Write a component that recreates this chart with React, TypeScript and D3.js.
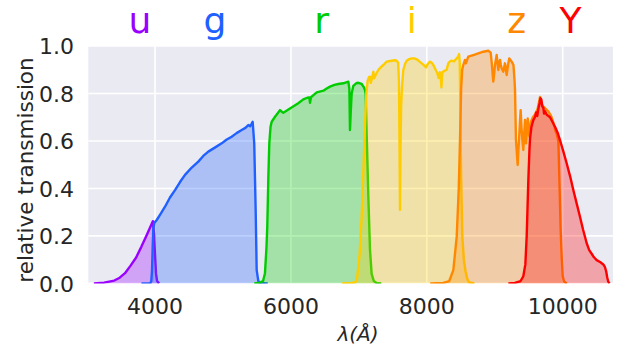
import React from 'react';
import * as d3 from 'd3';

// Filter transmission curves (wavelength in Å, relative transmission)
const uWave = [3100, 3250, 3400, 3480, 3558, 3640, 3720, 3800, 3880, 3950, 3968, 3985, 4000, 4015, 4030, 4060];
const uTrans = [0, 0.003, 0.012, 0.024, 0.043, 0.075, 0.108, 0.155, 0.205, 0.25, 0.262, 0.21, 0.12, 0.04, 0.01, 0];

const gWave = [3800, 3930, 3945, 3955, 3965, 3975, 3990, 4025, 4080, 4147, 4220, 4294, 4370, 4441, 4540, 4637, 4710, 4784, 4880, 4981, 5050, 5128, 5200, 5275, 5330, 5373, 5400, 5420, 5437, 5460, 5481, 5496, 5520, 5560, 5660];
const gTrans = [0, 0, 0.01, 0.05, 0.15, 0.23, 0.255, 0.267, 0.292, 0.323, 0.362, 0.393, 0.428, 0.457, 0.488, 0.513, 0.537, 0.555, 0.572, 0.59, 0.605, 0.618, 0.633, 0.646, 0.655, 0.667, 0.662, 0.672, 0.681, 0.59, 0.31, 0.056, 0.01, 0.002, 0];

const rWave = [5460, 5540, 5590, 5618, 5640, 5652, 5668, 5682, 5700, 5717, 5766, 5800, 5839, 5870, 5888, 5940, 5986, 6050, 6108, 6182, 6240, 6270, 6281, 6295, 6340, 6380, 6478, 6520, 6575, 6640, 6697, 6771, 6845, 6860, 6869, 6880, 6894, 6918, 6960, 6992, 7041, 7070, 7090, 7100, 7115, 7139, 7164, 7188, 7220, 7260, 7330];
const rTrans = [0, 0.003, 0.01, 0.043, 0.15, 0.24, 0.45, 0.59, 0.66, 0.681, 0.702, 0.715, 0.73, 0.722, 0.719, 0.728, 0.737, 0.748, 0.759, 0.775, 0.782, 0.783, 0.761, 0.784, 0.795, 0.805, 0.812, 0.82, 0.829, 0.836, 0.84, 0.843, 0.85, 0.82, 0.646, 0.72, 0.8, 0.832, 0.843, 0.845, 0.84, 0.828, 0.815, 0.8, 0.63, 0.37, 0.14, 0.04, 0.01, 0.002, 0];

const iWave = [6750, 6900, 6950, 6975, 7010, 7041, 7065, 7090, 7110, 7130, 7150, 7164, 7175, 7190, 7213, 7225, 7250, 7286, 7320, 7360, 7409, 7483, 7530, 7556, 7578, 7590, 7598, 7605, 7612, 7622, 7635, 7654, 7680, 7704, 7740, 7777, 7815, 7851, 7890, 7925, 7960, 7988, 8015, 8047, 8070, 8096, 8130, 8155, 8175, 8190, 8205, 8215, 8228, 8260, 8292, 8316, 8340, 8366, 8400, 8430, 8460, 8475, 8485, 8495, 8505, 8522, 8545, 8570, 8595, 8620, 8700];
const iTrans = [0, 0.002, 0.005, 0.025, 0.12, 0.28, 0.47, 0.67, 0.8, 0.855, 0.87, 0.871, 0.845, 0.86, 0.892, 0.864, 0.88, 0.899, 0.91, 0.92, 0.934, 0.938, 0.94, 0.938, 0.93, 0.85, 0.6, 0.31, 0.55, 0.75, 0.83, 0.899, 0.925, 0.938, 0.945, 0.948, 0.948, 0.944, 0.935, 0.927, 0.918, 0.91, 0.925, 0.934, 0.93, 0.92, 0.9, 0.885, 0.865, 0.89, 0.87, 0.825, 0.89, 0.895, 0.9, 0.927, 0.935, 0.938, 0.935, 0.945, 0.955, 0.966, 0.93, 0.7, 0.45, 0.2, 0.1, 0.05, 0.02, 0.005, 0];

const zWave = [8050, 8243, 8330, 8390, 8440, 8470, 8488, 8505, 8520, 8537, 8560, 8575, 8610, 8684, 8757, 8831, 8905, 8940, 8955, 8964, 8978, 8990, 9003, 9028, 9040, 9052, 9065, 9077, 9090, 9101, 9126, 9150, 9165, 9175, 9195, 9214, 9249, 9275, 9290, 9298, 9312, 9325, 9337, 9347, 9357, 9370, 9381, 9395, 9406, 9420, 9435, 9445, 9460, 9472, 9485, 9497, 9509, 9522, 9533, 9560, 9592, 9630, 9666, 9690, 9715, 9750, 9788, 9830, 9862, 9890, 9911, 9936, 9950, 9970, 9985, 10000, 10020, 10060];
const zTrans = [0, 0.002, 0.01, 0.056, 0.197, 0.4, 0.6, 0.82, 0.9, 0.92, 0.941, 0.927, 0.955, 0.962, 0.969, 0.976, 0.98, 0.972, 0.93, 0.899, 0.85, 0.88, 0.92, 0.962, 0.93, 0.899, 0.93, 0.941, 0.92, 0.906, 0.892, 0.927, 0.9, 0.878, 0.92, 0.948, 0.934, 0.92, 0.86, 0.815, 0.604, 0.55, 0.499, 0.56, 0.604, 0.68, 0.73, 0.65, 0.604, 0.562, 0.64, 0.688, 0.59, 0.64, 0.695, 0.65, 0.618, 0.66, 0.681, 0.7, 0.712, 0.735, 0.785, 0.755, 0.745, 0.735, 0.725, 0.705, 0.678, 0.645, 0.63, 0.6, 0.45, 0.225, 0.11, 0.03, 0.008, 0];

const yWave = [9200, 9297, 9380, 9420, 9450, 9470, 9494, 9510, 9519, 9540, 9567, 9590, 9610, 9625, 9641, 9660, 9672, 9685, 9700, 9715, 9725, 9740, 9765, 9790, 9813, 9850, 9887, 9925, 9960, 10010, 10058, 10110, 10156, 10205, 10254, 10300, 10353, 10390, 10426, 10460, 10500, 10550, 10598, 10620, 10640, 10655, 10671, 10690];
const yTrans = [0, 0.002, 0.01, 0.03, 0.08, 0.2, 0.435, 0.56, 0.61, 0.66, 0.688, 0.7, 0.72, 0.705, 0.735, 0.76, 0.78, 0.775, 0.745, 0.74, 0.715, 0.725, 0.71, 0.705, 0.7, 0.68, 0.66, 0.635, 0.604, 0.555, 0.506, 0.45, 0.393, 0.337, 0.281, 0.226, 0.169, 0.14, 0.125, 0.11, 0.098, 0.09, 0.08, 0.07, 0.05, 0.025, 0.007, 0];

const bandNames = ['u', 'g', 'r', 'i', 'z', 'Y'];
const bandColors = ['#9900ff', '#2060ff', '#00cc00', '#ffcc00', '#ff8800', '#ff0000'];
const bandLabelWave = [3779, 4883, 6453, 7778, 9323, 10115];
const bandWaves = [uWave, gWave, rWave, iWave, zWave, yWave];
const bandTrans = [uTrans, gTrans, rTrans, iTrans, zTrans, yTrans];

const xTicks = [4000, 6000, 8000, 10000];
const yTicks = [0, 0.2, 0.4, 0.6, 0.8, 1.0];

const W = 624;
const H = 349;
const plot = { left: 88.3, right: 613, top: 46, bottom: 283.4 };
const FONT = 'DejaVu Sans, sans-serif';

export default function App() {
  const x = d3.scaleLinear().domain([3018, 10740]).range([plot.left, plot.right]);
  const y = d3.scaleLinear().domain([0, 1]).range([plot.bottom, plot.top]);

  const bands = bandNames.map((name, k) => ({
    name,
    color: bandColors[k],
    labelWave: bandLabelWave[k],
    points: bandWaves[k].map((w, j) => [w, bandTrans[k][j]] as [number, number]),
  }));

  const area = d3
    .area<[number, number]>()
    .x((d) => x(d[0]))
    .y0(y(0))
    .y1((d) => y(d[1]));
  const line = d3
    .line<[number, number]>()
    .x((d) => x(d[0]))
    .y((d) => y(d[1]));

  return (
    <svg
      width={W}
      height={H}
      style={{ position: 'absolute', left: 0, top: 0, background: '#ffffff' }}
      fontFamily={FONT}
    >
      <defs>
        <clipPath id="plot-clip">
          <rect x={plot.left} y={plot.top} width={plot.right - plot.left} height={plot.bottom - plot.top} />
        </clipPath>
      </defs>

      <rect x={plot.left} y={plot.top} width={plot.right - plot.left} height={plot.bottom - plot.top} fill="#eaeaf2" />

      {xTicks.map((t) => (
        <line key={'gx' + t} x1={x(t)} x2={x(t)} y1={plot.top} y2={plot.bottom} stroke="#ffffff" strokeWidth={1.6} />
      ))}
      {yTicks.map((t) => (
        <line key={'gy' + t} x1={plot.left} x2={plot.right} y1={y(t)} y2={y(t)} stroke="#ffffff" strokeWidth={1.6} />
      ))}

      <g clipPath="url(#plot-clip)">
        {bands.map((b) => (
          <g key={b.name}>
            <path d={area(b.points) ?? ''} fill={b.color} fillOpacity={0.3} stroke="none" />
            <path d={line(b.points) ?? ''} fill="none" stroke={b.color} strokeWidth={2.4} strokeLinejoin="round" />
          </g>
        ))}
      </g>

      {bands.map((b) => (
        <text key={'lab' + b.name} x={x(b.labelWave)} y={33} fontSize={36} fill={b.color} textAnchor="middle">
          {b.name}
        </text>
      ))}

      {xTicks.map((t) => (
        <text key={'tx' + t} x={x(t)} y={314} fontSize={22} fill="#262626" textAnchor="middle">
          {t}
        </text>
      ))}
      {yTicks.map((t) => (
        <text key={'ty' + t} x={74} y={y(t) + 8.2} fontSize={22} fill="#262626" textAnchor="end">
          {t.toFixed(1)}
        </text>
      ))}

      <text
        transform={`translate(33, 170) rotate(-90)`}
        fontSize={21.5}
        fill="#262626"
        textAnchor="middle"
      >
        relative transmission
      </text>
      <text x={358} y={341} fontSize={20} fill="#262626" textAnchor="middle" fontStyle="italic">
        λ(Å)
      </text>
    </svg>
  );
}
